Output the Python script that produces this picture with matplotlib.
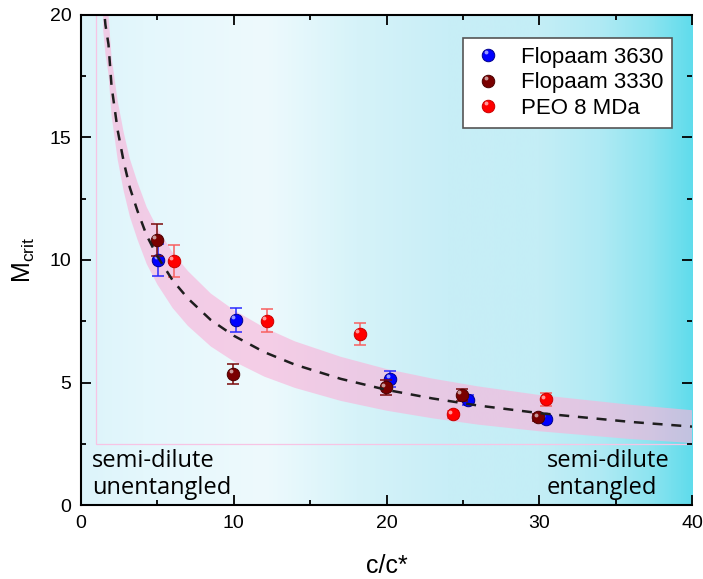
import numpy as np
import matplotlib
matplotlib.use('Agg')
import matplotlib.pyplot as plt
import matplotlib.transforms as mtransforms
from matplotlib.colors import LinearSegmentedColormap
from matplotlib.lines import Line2D
from matplotlib.legend_handler import HandlerBase
from matplotlib.ticker import AutoMinorLocator, MultipleLocator

plt.rcParams['font.family'] = ['Liberation Sans', 'DejaVu Sans']

# measured points: c/c* and M_crit with error
blue_c = [5.06, 10.13, 20.23, 25.36, 30.42]
blue_m = [10.0, 7.55, 5.14, 4.29, 3.50]
blue_e = [0.64, 0.48, 0.33, 0.20, 0.15]

brown_c = [4.95, 9.97, 19.95, 24.92, 29.94]
brown_m = [10.82, 5.35, 4.80, 4.49, 3.58]
brown_e = [0.65, 0.41, 0.30, 0.24, 0.15]

red_c = [6.07, 12.15, 18.26, 24.33, 30.42]
red_m = [9.97, 7.52, 6.97, 3.70, 4.31]
red_e = [0.65, 0.47, 0.45, 0.15, 0.27]

# dashed guide curve
fit_c = [1.45, 1.6, 1.8, 2.0, 2.4, 2.8, 3.2, 3.7, 4.3, 5, 6, 7, 8.5, 10,
         12, 14, 17, 20, 23, 26, 30, 33, 36, 40]
fit_m = [20.6, 19.6, 18.8, 17.1, 15.3, 14.0, 12.95, 12.0, 11.0, 10.15, 9.17,
         8.43, 7.55, 6.91, 6.24, 5.73, 5.15, 4.70, 4.35, 4.06, 3.75, 3.57,
         3.39, 3.2]

# pink band edges (same c grid)
band_hi = [21.8, 20.8, 20.0, 18.3, 16.5, 15.2, 14.13, 13.17, 12.16, 11.3,
           10.3, 9.55, 8.63, 7.96, 7.24, 6.68, 6.05, 5.55, 5.16, 4.84,
           4.49, 4.29, 4.09, 3.87]
band_lo = [19.4, 18.4, 17.6, 15.9, 14.1, 12.8, 11.77, 10.83, 9.84, 9.0,
           8.04, 7.31, 6.47, 5.86, 5.24, 4.78, 4.25, 3.85, 3.54, 3.28,
           3.01, 2.85, 2.69, 2.53]

labels = ['Flopaam 3630', 'Flopaam 3330', 'PEO 8 MDa']


class SphereHandler(HandlerBase):
    # legend marker with a small highlight, like the shaded spheres
    def create_artists(self, legend, orig_handle, xdescent, ydescent,
                       width, height, fontsize, trans):
        x = width / 2 - xdescent
        y = height / 2 - ydescent
        base = Line2D([x], [y], ls='none', marker='o', ms=9,
                      mfc=orig_handle.get_markerfacecolor(),
                      mec=orig_handle.get_markeredgecolor(), mew=0.7,
                      transform=trans)
        spot = Line2D([x - 1.8], [y + 2.0], ls='none', marker='o', ms=2.8,
                      color='white', alpha=0.6, mew=0, transform=trans)
        return [base, spot]


fig = plt.figure(figsize=(7.03, 5.79), dpi=100)
ax = fig.add_axes([0.1152, 0.1278, 0.8692, 0.8463])

# background gradient
bg_pos = [0, 0.1, 0.3, 0.45, 0.6, 0.75, 0.85, 0.93, 1.0]
bg_col = ['#dcf4fa', '#e4f7fc', '#eefafd', '#d6f3f9', '#c8eef7',
          '#c4eef6', '#b0eaf4', '#8ee4f0', '#60dcec']
cmap = LinearSegmentedColormap.from_list('bg', list(zip(bg_pos, bg_col)))
ax.imshow(np.linspace(0, 1, 512)[None, :], cmap=cmap, extent=[0, 40, 0, 20],
          aspect='auto', zorder=0, interpolation='bicubic')

ax.fill(np.r_[fit_c, fit_c[::-1]], np.r_[band_hi, band_lo[::-1]],
        color='#f9b4da', alpha=0.64, lw=0, zorder=1)
ax.plot([1, 1, 40], [20, 2.5, 2.5], color='#f7c4e4', lw=0.9, zorder=1)

hl = mtransforms.offset_copy(ax.transData, fig=fig, x=-1.8, y=2.0, units='points')

series = [
    (blue_c, blue_m, blue_e, '#0000ff', '#00008a', '#2a2aff'),
    (brown_c, brown_m, brown_e, '#7a0000', '#4a0000', '#7a0a0a'),
    (red_c, red_m, red_e, '#ff0000', '#c80000', '#f86060'),
]
handles = []
z = 3
for (c, m, e, col, edge, ecol) in series:
    ax.errorbar(c, m, yerr=e, fmt='none', ecolor=ecol, elinewidth=1.1,
                capsize=4, capthick=1.1, zorder=z)
    ax.plot(c, m, 'o', ms=9, mfc=col, mec=edge, mew=0.7, zorder=z + 1)
    ax.plot(c, m, 'o', ms=2.8, color='white', alpha=0.6, mew=0,
            transform=hl, zorder=z + 2)
    handles.append(Line2D([], [], ls='none', marker='o', mfc=col, mec=edge))
    z += 3

ax.plot(fit_c, fit_m, ls=(0, (4, 3.5)), color='#1e1e1e', lw=1.8, zorder=20)

ax.text(0.7, 0.2, 'semi-dilute\nunentangled', family=['Open Sans', 'DejaVu Sans'],
        fontsize=17, ha='left', va='bottom', linespacing=1.2, zorder=21)
ax.text(30.5, 0.2, 'semi-dilute\nentangled', family=['Open Sans', 'DejaVu Sans'],
        fontsize=17, ha='left', va='bottom', linespacing=1.2, zorder=21)

ax.set_xlim(0, 40)
ax.set_ylim(0, 20)
ax.xaxis.set_major_locator(MultipleLocator(10))
ax.xaxis.set_minor_locator(AutoMinorLocator(2))
ax.yaxis.set_major_locator(MultipleLocator(5))
ax.yaxis.set_minor_locator(AutoMinorLocator(2))
ax.tick_params(which='both', direction='in', top=True, right=True,
               labelsize=14, width=1.3)
ax.tick_params(which='major', length=7, pad=7)
ax.tick_params(which='minor', length=3.5)
for s in ax.spines.values():
    s.set_linewidth(1.5)
ax.spines['right'].set_visible(False)

ax.set_xlabel('c/c*', fontsize=18, labelpad=16)
ax.set_ylabel('M$_{\\mathregular{crit}}$', fontsize=18, labelpad=9)

leg = ax.legend(handles, labels, handler_map={Line2D: SphereHandler()},
                loc='upper right', bbox_to_anchor=(0.967, 0.953), fontsize=16,
                frameon=True, fancybox=False, edgecolor='#555555', framealpha=1,
                borderpad=0.4, handletextpad=0.7, labelspacing=0.2,
                handlelength=1.5, borderaxespad=0)
leg.get_frame().set_linewidth(1.2)
leg.set_zorder(30)

fig.savefig('out.png', dpi=100)
